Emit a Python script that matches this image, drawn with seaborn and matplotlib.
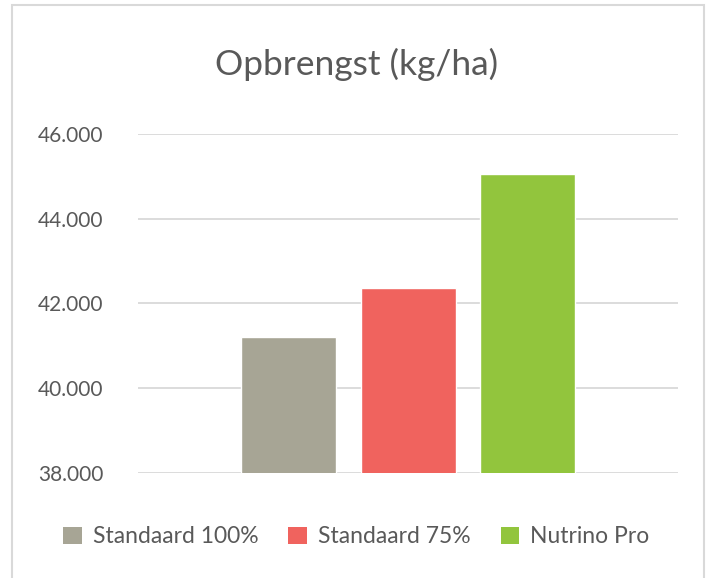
import pandas as pd
import matplotlib.pyplot as plt
import seaborn as sns
from matplotlib.patches import Rectangle, Patch
from matplotlib.ticker import FuncFormatter

# chart data
series = ["Standaard 100%", "Standaard 75%", "Nutrino Pro"]
yield_kg_ha = [41210, 42360, 45050]
colors = ["#A7A595", "#F0635E", "#92C53D"]

df = pd.DataFrame({"serie": series, "opbrengst": yield_kg_ha})

sns.set_style("white")
plt.rcParams["font.family"] = ["Lato", "DejaVu Sans"]

fig = plt.figure(figsize=(7.13, 5.78), dpi=100)
ax = fig.add_axes([0.1936, 0.1817, 0.7574, 0.5865])

sns.barplot(data=df, x="serie", y="opbrengst", hue="serie", palette=colors,
            saturation=1, width=0.795, legend=False, ax=ax, zorder=3)

ax.set_ylim(38000, 46000)
ax.set_xlim(-1.26, 3.26)
ax.set_yticks([38000, 40000, 42000, 44000, 46000])
ax.yaxis.set_major_formatter(FuncFormatter(lambda v, p: f"{int(v):,}".replace(",", ".")))
ax.grid(axis="y", color="#d9d9d9", linewidth=1.3, zorder=0)
ax.set_xticks([])
ax.set_xlabel("")
ax.set_ylabel("")
for s in ax.spines.values():
    s.set_visible(False)
ax.tick_params(axis="y", length=0, pad=25, labelsize=15, labelcolor="#595959")

fig.text(0.5, 0.888, "Opbrengst (kg/ha)", ha="center", va="center",
         fontsize=25.5, color="#595959")

handles = [Patch(facecolor=c, edgecolor="none") for c in colors]
fig.legend(handles, series, loc="center", bbox_to_anchor=(0.5, 0.071), ncol=3,
           frameon=False, fontsize=16.5, labelcolor="#595959",
           handlelength=0.8, handleheight=0.8, handletextpad=0.5, columnspacing=1.3)

# outer chart border
fig.patches.append(Rectangle((12 / 713, -0.01), 692 / 713, 1 - 5 / 578 + 0.01,
                             transform=fig.transFigure, fill=False,
                             edgecolor="#d9d9d9", linewidth=1.5))

fig.savefig("out.png", dpi=100, facecolor="white")
